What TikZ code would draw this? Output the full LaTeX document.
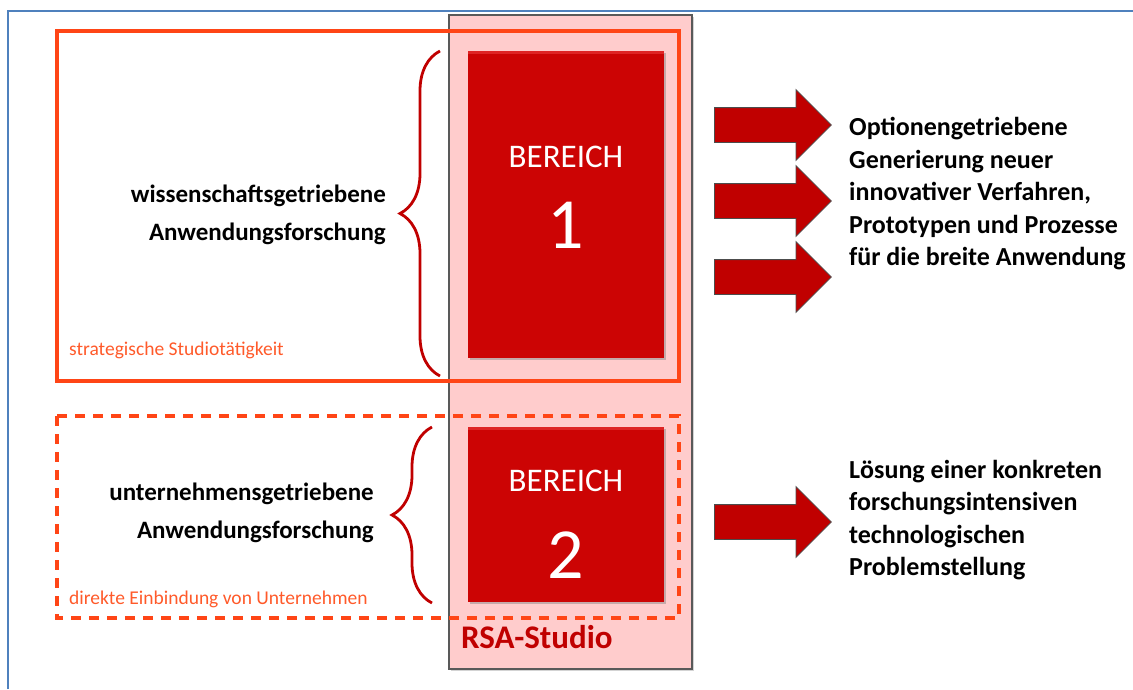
\documentclass[tikz,border=0pt]{standalone}
\usepackage{fontspec}
\setmainfont{Carlito}
\usetikzlibrary{shapes.arrows, decorations.pathreplacing, shadows}

\definecolor{rahmenblau}{HTML}{4F81BD}
\definecolor{orangerot}{HTML}{FF4516}
\definecolor{labelorange}{HTML}{FF5A2A}
\definecolor{bereichrot}{HTML}{CC0404}
\definecolor{kantenrot}{HTML}{DE2424}
\definecolor{pfeilrot}{HTML}{C00000}
\definecolor{studiorosa}{HTML}{FFCCCC}
\definecolor{studiorot}{HTML}{C00000}

\begin{document}
\begin{tikzpicture}[
            x = 1pt, y = -1pt, % pixel grid, y pointing down
            line join = miter
        ]

        \tikzstyle{studiobox}=[
            draw = black!65,
            line width = 1.6pt,
            fill = studiorosa,
            drop shadow = {shadow xshift=1.5pt, shadow yshift=-1.5pt, opacity=.35}
        ]
        \tikzstyle{bereichbox}=[
            draw = none,
            fill = bereichrot,
            inner sep = 0pt,
            drop shadow = {shadow xshift=1.5pt, shadow yshift=-2pt, opacity=.45},
            path picture = {
                \fill[kantenrot] (path picture bounding box.north west)
                    rectangle ([yshift=-3pt]path picture bounding box.north east);
            }
        ]
        \tikzstyle{blockpfeil}=[
            single arrow,
            draw = black!70,
            line width = 0.8pt,
            fill = pfeilrot,
            inner xsep = 0pt,
            inner ysep = 17pt,
            text height = 0pt,
            text depth = 0pt,
            minimum height = 117pt,
            single arrow head extend = 18pt,
            anchor = tail
        ]
        \tikzstyle{klammer}=[
            draw = pfeilrot,
            line width = 2.8pt,
            decorate,
            decoration = {brace, amplitude=40pt}
        ]
        \tikzstyle{seitentext}=[
            font = \fontsize{25}{38}\selectfont\bfseries,
            align = right,
            anchor = east,
            inner sep = 0pt
        ]
        \tikzstyle{zieltext}=[
            font = \fontsize{26}{32.5}\selectfont\bfseries,
            align = left,
            anchor = west,
            inner sep = 0pt
        ]
        \tikzstyle{ecktext}=[
            font = \fontsize{19.5}{22}\selectfont,
            text = labelorange,
            anchor = west,
            inner sep = 0pt
        ]

        \useasboundingbox (0,0) rectangle (1133,689);

        % outer frame of the screenshot
        \draw[rahmenblau, line width=1.8pt] (8,689) -- (8,11) -- (1133,11);

        % the studio column
        \node[studiobox, minimum width=243pt, minimum height=654pt] (studio) at (570.5,342) {};
        \node[font=\fontsize{33}{33}\selectfont\bfseries, text=studiorot, anchor=west, inner sep=0pt]
            (studioname) at (461,637) {RSA-Studio};

        % activity frames
        \draw[orangerot, line width=3.4pt] (57,31) rectangle (679,381);
        \draw[orangerot, line width=3.4pt, dash pattern=on 10pt off 8pt] (57,416) rectangle (679,618);

        % the two areas
        \node[bereichbox, minimum width=196pt, minimum height=307pt] (bereich1) at (566,204.5) {};
        \node[bereichbox, minimum width=196pt, minimum height=175pt] (bereich2) at (566,514.5) {};

        \node[text=white, font=\fontsize{33}{33}\selectfont] (titel1) at (566,157) {BEREICH};
        \node[text=white, font=\fontsize{72}{72}\selectfont] (nummer1) at (566,225) {1};
        \node[text=white, font=\fontsize{33}{33}\selectfont] (titel2) at (566,481) {BEREICH};
        \node[text=white, font=\fontsize{72}{72}\selectfont] (nummer2) at (566,555) {2};

        % braces
        \coordinate (k1oben) at (440,51);
        \coordinate (k1unten) at (440,376);
        \coordinate (k2oben) at (432,427);
        \coordinate (k2unten) at (432,603);
        \draw[klammer] (k1unten) -- (k1oben);
        \draw[klammer] (k2unten) -- (k2oben);

        % kinds of research
        \node[seitentext] (wissen) at (386,215) {wissenschaftsgetriebene\\Anwendungsforschung};
        \node[seitentext] (unternehmen) at (374,513) {unternehmensgetriebene\\Anwendungsforschung};

        \node[ecktext] (strategie) at (69,350) {strategische Studiotätigkeit};
        \node[ecktext] (einbindung) at (69,599) {direkte Einbindung von Unternehmen};

        % results
        \node[blockpfeil] (pfeil1) at (714,125) {};
        \node[blockpfeil] (pfeil2) at (714,201) {};
        \node[blockpfeil] (pfeil3) at (714,277) {};
        \node[blockpfeil] (pfeil4) at (714,522) {};

        \node[zieltext] (optionen) at (849,194)
            {Optionengetriebene\\Generierung neuer\\innovativer Verfahren,\\Prototypen und Prozesse\\für die breite Anwendung};
        \node[zieltext] (loesung) at (849,520)
            {Lösung einer konkreten\\forschungsintensiven\\technologischen\\Problemstellung};
    \end{tikzpicture}
\end{document}
